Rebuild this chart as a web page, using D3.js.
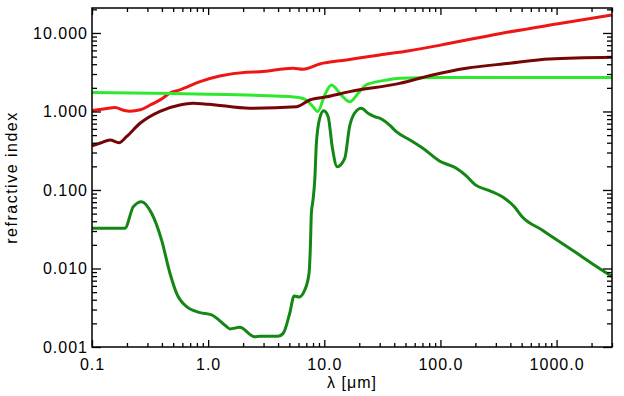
<!DOCTYPE html>
<html>
<meta charset="utf-8">
<script src="https://d3js.org/d3.v7.min.js"></script>
<style>
  body { margin: 0; background: #fff; }
  text { font-family: "Liberation Sans", Arial, sans-serif; }
</style>
<body>
<div id="chart"></div>
<script>
// wavelength in micron
var redLam = [0.1, 0.13, 0.158, 0.19, 0.212, 0.26, 0.315, 0.4, 0.469, 0.571, 0.85, 1.26, 2.14, 2.79, 5.38, 6.57, 9.13, 15.5, 30, 54, 100, 322, 1000, 3000];
var redN   = [1.03, 1.08, 1.12, 1.03, 1.01, 1.05, 1.2, 1.45, 1.72, 1.88, 2.40, 2.83, 3.16, 3.2, 3.55, 3.45, 4.03, 4.53, 5.25, 5.95, 7.0, 9.8, 13.0, 16.9];

var maroonLam = [0.1, 0.12, 0.143, 0.171, 0.198, 0.259, 0.385, 0.571, 0.738, 1.0, 2.28, 5.79, 7.49, 10.5, 16.5, 44.5, 85.5, 167, 393, 867, 3000];
var maroonN   = [0.364, 0.40, 0.434, 0.401, 0.477, 0.708, 1.006, 1.21, 1.27, 1.24, 1.10, 1.15, 1.40, 1.54, 1.79, 2.28, 2.92, 3.55, 4.11, 4.66, 4.90];

var limeLam = [0.1, 0.5, 1.0, 2.79, 5.0, 6.15, 7.0, 8.0, 8.77, 10.1, 11.5, 14.0, 16.5, 20.1, 23, 32, 44.5, 100, 3000];
var limeN   = [1.74, 1.70, 1.66, 1.60, 1.55, 1.50, 1.40, 1.15, 1.0, 1.62, 2.18, 1.62, 1.33, 1.79, 2.18, 2.47, 2.65, 2.70, 2.70];

var greenLam = [0.1, 0.192, 0.227, 0.267, 0.326, 0.397, 0.469, 0.535, 0.652, 0.85, 1.07, 1.44, 1.54, 1.87, 2.52, 2.79, 4.0, 4.41, 5.04, 5.5, 6.07, 6.79, 7.39, 7.59, 7.74, 8.0, 8.28, 8.55, 9.13, 9.89, 10.8, 11.7, 12.9, 15.0, 16.5, 18.2, 20.8, 23.8, 27.1, 30, 36.5, 41.7, 55, 70.6, 98, 137, 167, 200, 264, 356, 433, 505, 750, 1000, 1500, 2000, 3000];
var greenK   = [0.0325, 0.0325, 0.0613, 0.071, 0.0505, 0.0231, 0.0087, 0.00483, 0.00326, 0.00274, 0.00256, 0.00182, 0.0017, 0.00178, 0.00135, 0.00137, 0.00137, 0.00148, 0.00269, 0.00447, 0.00434, 0.00532, 0.0087, 0.019, 0.0505, 0.075, 0.134, 0.394, 0.819, 1.02, 0.859, 0.356, 0.198, 0.253, 0.64, 0.95, 1.10, 0.95, 0.86, 0.82, 0.67, 0.553, 0.43, 0.34, 0.234, 0.189, 0.151, 0.116, 0.098, 0.0784, 0.0612, 0.0457, 0.0309, 0.0233, 0.0156, 0.0117, 0.0079];

var xMajor = [0.1, 1, 10, 100, 1000];
var yMajor = [0.001, 0.01, 0.1, 1, 10];

//dimensions
var margin = {top: 8, right: 12, bottom: 49, left: 92},
    width = 624 - margin.left - margin.right,
    height = 396 - margin.top - margin.bottom;

var svg = d3.select("#chart")
  .append("svg")
    .attr("width", 624)
    .attr("height", 396)
  .append("g")
    .attr("transform", "translate(" + margin.left + "," + margin.top + ")");

var x = d3.scaleLog().domain([0.1, 3000]).range([0, width]);
var y = d3.scaleLog().domain([0.001, 20.8]).range([height, 0]);

function minors(majors, max) {
  var out = [];
  majors.forEach(function(d) {
    for (var k = 2; k <= 9; k++) if (d * k <= max) out.push(d * k);
  });
  return out;
}
var xMinor = minors(xMajor, 3000);
var yMinor = minors(yMajor, 20.8);

svg.append("defs").append("clipPath").attr("id", "clip")
  .append("rect").attr("width", width).attr("height", height);

// curves
var line = d3.line()
    .x(function(d) { return x(d[0]); })
    .y(function(d) { return y(d[1]); })
    .curve(d3.curveMonotoneX);

var series = [
  {lam: redLam, val: redN, color: "#ee1515"},
  {lam: limeLam, val: limeN, color: "#2ee82e"},
  {lam: maroonLam, val: maroonN, color: "#760606"},
  {lam: greenLam, val: greenK, color: "#138613"}
];

svg.append("g").attr("clip-path", "url(#clip)")
  .selectAll("path")
  .data(series)
  .enter()
  .append("path")
    .attr("fill", "none")
    .attr("stroke", function(d) { return d.color; })
    .attr("stroke-width", 3)
    .attr("stroke-linejoin", "round")
    .attr("d", function(d) { return line(d.lam.map(function(l, i) { return [l, d.val[i]]; })); });

// axes, ticks pointing inward on all four sides
function styleAxis(g) {
  g.select(".domain").remove();
  g.selectAll("line").attr("stroke", "#000").attr("stroke-width", 1.3);
  g.selectAll("text").attr("fill", "#000").attr("font-size", 16).style("letter-spacing", "1px");
}

svg.append("g")
    .attr("transform", "translate(0," + height + ")")
    .call(d3.axisBottom(x).tickValues(xMajor).tickSize(-7).tickPadding(12).tickFormat(d3.format(".1f")))
    .call(styleAxis);
svg.append("g")
    .attr("transform", "translate(0," + height + ")")
    .call(d3.axisBottom(x).tickValues(xMinor).tickSize(-4).tickFormat(""))
    .call(styleAxis);
svg.append("g")
    .call(d3.axisTop(x).tickValues(xMajor).tickSize(-7).tickFormat(""))
    .call(styleAxis);
svg.append("g")
    .call(d3.axisTop(x).tickValues(xMinor).tickSize(-4).tickFormat(""))
    .call(styleAxis);

svg.append("g")
    .call(d3.axisLeft(y).tickValues(yMajor).tickSize(-9).tickPadding(4).tickFormat(d3.format(".3f")))
    .call(styleAxis);
svg.append("g")
    .call(d3.axisLeft(y).tickValues(yMinor).tickSize(-5).tickFormat(""))
    .call(styleAxis);
svg.append("g")
    .attr("transform", "translate(" + width + ",0)")
    .call(d3.axisRight(y).tickValues(yMajor).tickSize(-9).tickFormat(""))
    .call(styleAxis);
svg.append("g")
    .attr("transform", "translate(" + width + ",0)")
    .call(d3.axisRight(y).tickValues(yMinor).tickSize(-5).tickFormat(""))
    .call(styleAxis);

// frame
svg.append("rect")
    .attr("width", width)
    .attr("height", height)
    .attr("fill", "none")
    .attr("stroke", "#000")
    .attr("stroke-width", 1.5);

// axis titles
svg.append("text")
    .attr("x", width / 2)
    .attr("y", height + 41)
    .attr("text-anchor", "middle")
    .attr("font-size", 16)
    .style("letter-spacing", "1px")
    .text("λ [μm]");

svg.append("text")
    .attr("transform", "translate(" + (17 - margin.left) + "," + (height / 2) + ") rotate(-90)")
    .attr("text-anchor", "middle")
    .attr("font-size", 16)
    .style("letter-spacing", "1.5px")
    .text("refractive index");
</script>
</body>
</html>
